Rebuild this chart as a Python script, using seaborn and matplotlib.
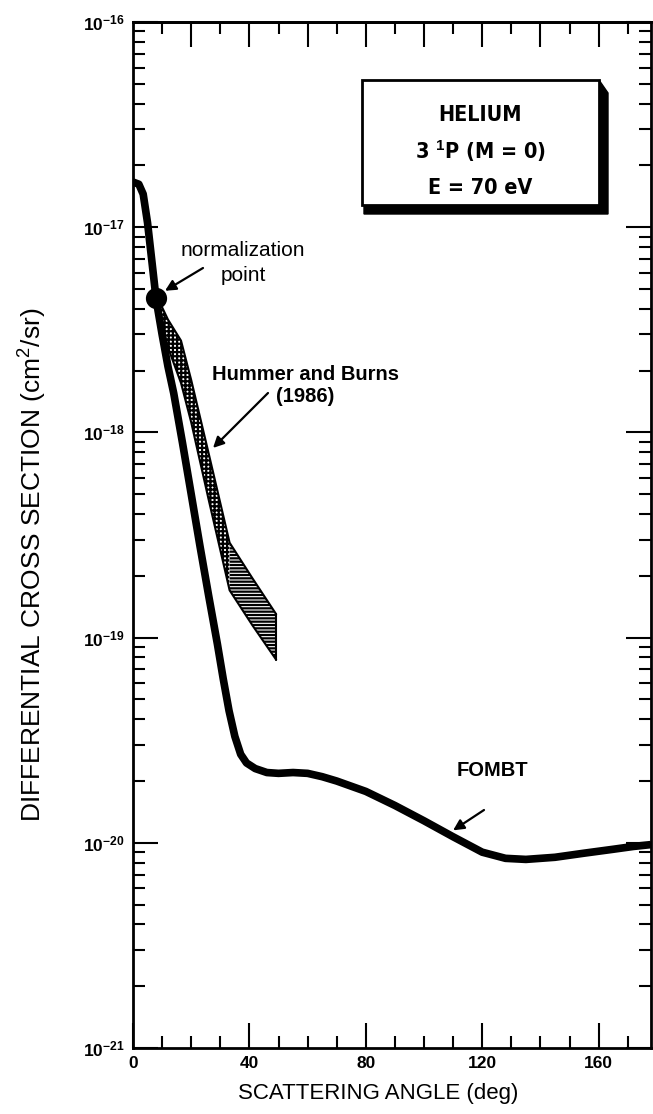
import matplotlib
matplotlib.use("Agg")
import matplotlib.pyplot as plt
import seaborn as sns
import numpy as np
import pandas as pd
from matplotlib.patches import Rectangle, Polygon
from matplotlib import font_manager
from matplotlib.ticker import LogLocator, FixedLocator, LogFormatterMathtext, NullFormatter

# ---- data ----
fombt_angle = [0, 2, 3.5, 5, 6.5, 8, 10, 12, 14, 17, 20, 23, 26, 29, 31, 33, 35, 37, 39,
               42, 46, 50, 55, 60, 65, 70, 80, 90, 100, 110, 120, 128, 135, 145, 155, 165,
               172, 178]
fombt_dcs = [1.66e-17, 1.62e-17, 1.45e-17, 1.05e-17, 6.8e-18, 4.4e-18, 3.0e-18, 2.1e-18,
             1.55e-18, 8.9e-19, 5.0e-19, 2.8e-19, 1.6e-19, 9.3e-20, 6.3e-20, 4.4e-20, 3.3e-20,
             2.7e-20, 2.45e-20, 2.3e-20, 2.2e-20, 2.18e-20, 2.2e-20, 2.18e-20, 2.1e-20,
             2.0e-20, 1.78e-20, 1.52e-20, 1.28e-20, 1.07e-20, 9.0e-21, 8.4e-21, 8.3e-21,
             8.5e-21, 8.9e-21, 9.3e-21, 9.6e-21, 9.8e-21]

hb_angle = [7.9, 12, 16.5, 20, 26, 33.2, 41, 49.2]
hb_upper = [4.7e-18, 3.55e-18, 2.8e-18, 1.8e-18, 7.9e-19, 2.9e-19, 1.95e-19, 1.3e-19]
hb_lower = [4.3e-18, 2.6e-18, 1.74e-18, 1.12e-18, 4.7e-19, 1.7e-19, 1.15e-19, 7.8e-20]

norm_angle = [7.9]
norm_dcs = [4.5e-18]

x_major = [0, 40, 80, 120, 160]
x_minor = [10, 20, 30, 50, 60, 70, 90, 100, 110, 130, 140, 150, 170]
top_major = [20, 40, 60, 80, 100, 120, 140, 160]
top_minor = [10, 30, 50, 70, 90, 110, 130, 150, 170]
y_major = [1e-21, 1e-20, 1e-19, 1e-18, 1e-17, 1e-16]

# ---- style ----
sns.set_theme(style="ticks")
plt.rcParams['font.family'] = ['Liberation Sans', 'DejaVu Sans']
for k in ['text.color', 'axes.labelcolor', 'xtick.color', 'ytick.color', 'axes.edgecolor']:
    plt.rcParams[k] = 'black'
plt.rcParams['mathtext.fontset'] = 'custom'
plt.rcParams['mathtext.rm'] = 'Liberation Sans'
plt.rcParams['mathtext.bf'] = 'Liberation Sans:bold'
plt.rcParams['hatch.linewidth'] = 1.6


def find_condensed_bold():
    best = None
    for f in font_manager.fontManager.ttflist:
        nm = (f.name + ' ' + str(f.fname)).lower()
        cond = ('condensed' in nm or 'narrow' in nm or f.stretch in ('condensed', 'semi-condensed'))
        bold = (f.weight in ('bold', 700, 'heavy', 800) or 'bold' in str(f.fname).lower())
        if cond and bold and 'oblique' not in nm and 'italic' not in nm and 'mono' not in nm \
                and 'serif' not in nm.replace('sans', ''):
            if best is None or 'liberation' in nm:
                best = f.fname
    return best


cond_file = find_condensed_bold()
if cond_file:
    box_kw = dict(fontproperties=font_manager.FontProperties(fname=cond_file, size=15.5))
else:
    box_kw = dict(fontweight='bold', fontsize=15)

W, H = 653, 1114
fig = plt.figure(figsize=(W / 100, H / 100), dpi=100)
L, R, T, B = 133, 651, 22, 1048
ax = fig.add_axes([L / W, 1 - B / H, (R - L) / W, (B - T) / H])
ax.set_facecolor('white')

df = pd.DataFrame({'angle': fombt_angle, 'dcs': fombt_dcs})
sns.lineplot(data=df, x='angle', y='dcs', ax=ax, color='black', linewidth=5.5,
             solid_capstyle='butt', solid_joinstyle='round', zorder=4)

# Hummer and Burns band (two hatch styles)
split = 5
ax.fill_between(hb_angle[:split + 1], hb_lower[:split + 1], hb_upper[:split + 1],
                facecolor='white', edgecolor='black', hatch='++++', linewidth=0, zorder=3)
ax.fill_between(hb_angle[split:], hb_lower[split:], hb_upper[split:],
                facecolor='white', edgecolor='black', hatch='-----', linewidth=0, zorder=3)
ax.plot(hb_angle, hb_upper, color='black', lw=1.5, zorder=3)
ax.plot(hb_angle, hb_lower, color='black', lw=1.5, zorder=3)
ax.plot([hb_angle[-1], hb_angle[-1]], [hb_lower[-1], hb_upper[-1]], color='black', lw=1.5, zorder=3)

sns.scatterplot(x=norm_angle, y=norm_dcs, ax=ax, color='black', s=200, zorder=5, edgecolor='black')

ax.set_yscale('log')
ax.set_xlim(0, 178)
ax.set_ylim(1e-21, 1e-16)

# ticks
ax.xaxis.set_major_locator(FixedLocator(x_major))
ax.xaxis.set_minor_locator(FixedLocator(x_minor))
ax.yaxis.set_major_locator(FixedLocator(y_major))
ax.yaxis.set_minor_locator(LogLocator(base=10, subs=np.arange(2, 10), numticks=20))
ax.yaxis.set_major_formatter(LogFormatterMathtext())
ax.yaxis.set_minor_formatter(NullFormatter())
ax.tick_params(axis='both', which='major', direction='in', length=18, width=1.5,
               labelsize=12.5, pad=6, colors='black')
ax.tick_params(axis='both', which='minor', direction='in', length=8.5, width=1.5)
ax.tick_params(axis='y', which='both', left=True, right=True)
ax.tick_params(axis='x', which='both', bottom=True, top=False)
for lab in ax.get_xticklabels() + ax.get_yticklabels():
    lab.set_fontweight('bold')

top = ax.secondary_xaxis('top')
top.xaxis.set_major_locator(FixedLocator(top_major))
top.xaxis.set_minor_locator(FixedLocator(top_minor))
top.tick_params(which='major', direction='in', length=18, width=1.5, labeltop=False)
top.tick_params(which='minor', direction='in', length=8.5, width=1.5)

for s in ax.spines.values():
    s.set_linewidth(2)
    s.set_color('black')
top.spines['top'].set_linewidth(2)

ax.set_xlabel('')
ax.set_ylabel('')
fig.text(378 / W, 1 - 1093 / H, 'SCATTERING ANGLE (deg)', ha='center', va='center', fontsize=16)
fig.text(32 / W, 1 - 565 / H, 'DIFFERENTIAL CROSS SECTION (cm$^2$/sr)', ha='center', va='center',
         rotation=90, fontsize=19)


def fx(px):
    return px / W


def fy(py):
    return 1 - py / H


# label box with shadow
bx0, bx1, by0, by1 = 362, 599, 80, 205
sh = 9
fig.add_artist(Polygon([(fx(bx1), fy(by0)), (fx(bx1 + sh), fy(by0 + sh + 4)), (fx(bx1 + sh), fy(by1 + sh)),
                        (fx(bx0 + 2), fy(by1 + sh)), (fx(bx0 + 2), fy(by1)), (fx(bx1), fy(by1))],
                       closed=True, transform=fig.transFigure, facecolor='black', edgecolor='black', zorder=6))
fig.add_artist(Rectangle((fx(bx0), fy(by1)), fx(bx1 - bx0), (by1 - by0) / H,
                         transform=fig.transFigure, facecolor='white', edgecolor='black',
                         linewidth=2, zorder=7))
cx = (bx0 + bx1) / 2
for txt, yy in [('HELIUM', 115), (r'3 $^{\mathbf{1}}$P (M = 0)', 151), ('E = 70 eV', 188)]:
    fig.text(fx(cx), fy(yy), txt, ha='center', va='center', zorder=8, **box_kw)

# annotation texts
afs = 15
fig.text(fx(243), fy(263), 'normalization\npoint', ha='center', va='center', fontsize=afs,
         linespacing=1.4)
fig.text(fx(305), fy(385), 'Hummer and Burns\n(1986)', ha='center', va='center', fontsize=14.5,
         fontweight='bold', linespacing=1.2)
fig.text(fx(492), fy(770), 'FOMBT', ha='center', va='center', fontsize=14.5, fontweight='bold')

# arrows
arrow = dict(arrowstyle='-|>', color='black', lw=1.6, mutation_scale=16, shrinkA=0, shrinkB=0)
ax.annotate('', xy=(11.0, 4.9e-18), xycoords='data', xytext=(fx(203), fy(268)),
            textcoords='figure fraction', arrowprops=arrow)
ax.annotate('', xy=(27.5, 8.4e-19), xycoords='data', xytext=(fx(268), fy(393)),
            textcoords='figure fraction', arrowprops=arrow)
ax.annotate('', xy=(110, 1.15e-20), xycoords='data', xytext=(fx(484), fy(810)),
            textcoords='figure fraction', arrowprops=arrow)

fig.savefig('out.png', dpi=100, facecolor='white')
